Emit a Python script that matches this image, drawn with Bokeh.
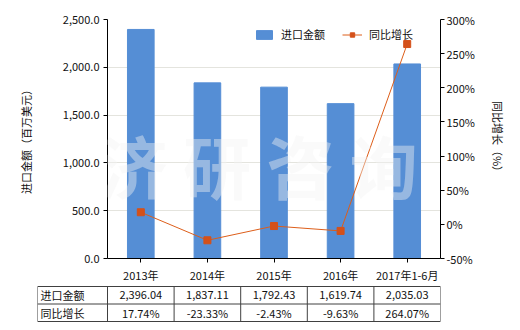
from bokeh.plotting import figure
from bokeh.models import (ColumnDataSource, FactorRange, Range1d, LinearAxis, NumeralTickFormatter,
                          PrintfTickFormatter, FixedTicker, Legend, LegendItem, Label)
from bokeh.layouts import column
from bokeh.core.properties import value
from bokeh.embed import file_html
from bokeh.resources import INLINE

# ---- data ----
categories = ["2013年", "2014年", "2015年", "2016年", "2017年1-6月"]
import_values = [2396.04, 1837.11, 1792.43, 1619.74, 2035.03]
growth_pct = [17.74, -23.33, -2.43, -9.63, 264.07]
left_ticks = [0, 500, 1000, 1500, 2000, 2500]
right_ticks = [-50, 0, 50, 100, 150, 200, 250, 300]
series_names = ["进口金额", "同比增长"]

FONT = "Noto Sans CJK SC"
BAR_COLOR = "#558ED5"
LINE_COLOR = "#DD5E1A"
MARK_COLOR = "#D4511A"

src = ColumnDataSource(dict(cat=categories, val=import_values, g=growth_pct))

p = figure(width=520, height=285, x_range=FactorRange(*categories, range_padding=0),
           y_range=Range1d(0, 2500), output_backend="svg", toolbar_location=None,
           min_border_left=107, min_border_right=80, min_border_top=19, min_border_bottom=26)
p.frame_align = False
p.outline_line_color = None
p.xgrid.grid_line_color = None
p.ygrid.grid_line_color = "#E4E4DE"
p.ygrid.ticker = FixedTicker(ticks=left_ticks)

p.extra_y_ranges = {"pct": Range1d(-50, 300)}

bars = p.vbar(x="cat", top="val", width=0.4, source=src, color=BAR_COLOR)

wm = Label(x=2.27, y=979, text="济 研 咨 询", text_align="center", text_baseline="middle",
           text_font=FONT, text_font_size="68px", text_font_style="bold",
           text_color="#F2F2F2", text_alpha=0.42)
p.add_layout(wm)

line = p.line(x="cat", y="g", source=src, y_range_name="pct", line_color=LINE_COLOR, line_width=1)
marks = p.scatter(x="cat", y="g", source=src, y_range_name="pct", marker="square", size=7,
                  fill_color=MARK_COLOR, line_color=MARK_COLOR)

def style_axis(ax):
    ax.major_label_text_font = FONT
    ax.major_label_text_font_size = "11px"
    ax.major_label_text_color = "#111111"
    ax.axis_label_text_font = FONT
    ax.axis_label_text_font_size = "11px"
    ax.axis_label_text_font_style = "normal"
    ax.axis_label_text_color = "#111111"
    ax.axis_line_color = "#000000"
    ax.major_tick_line_color = "#000000"
    ax.major_tick_out = 4
    ax.major_tick_in = 0
    ax.minor_tick_line_color = None

ly = p.yaxis[0]
style_axis(ly)
ly.ticker = FixedTicker(ticks=left_ticks)
ly.formatter = NumeralTickFormatter(format="0,0.0")
ly.axis_label = "进口金额（百万美元）"
ly.major_label_standoff = 4
ly.axis_label_standoff = 26

ry = LinearAxis(y_range_name="pct", ticker=FixedTicker(ticks=right_ticks),
                formatter=PrintfTickFormatter(format="%d%%"), axis_label="同比增长（%）")
style_axis(ry)
ry.major_label_standoff = 2
ry.axis_label_standoff = 12
p.add_layout(ry, "right")

bx = p.xaxis[0]
style_axis(bx)
bx.major_label_standoff = 4

legend = Legend(items=[LegendItem(label=series_names[0], renderers=[bars]),
                       LegendItem(label=series_names[1], renderers=[line, marks])],
                location=(147, 216), orientation="horizontal", margin=0, padding=0,
                spacing=17, label_standoff=7, glyph_width=20, glyph_height=11,
                label_height=11, label_text_font=FONT, label_text_font_size="11px",
                label_text_color="#111111", border_line_color=None,
                background_fill_alpha=0)
p.add_layout(legend)

# ---- data table below ----
ncol = len(categories)
x0 = -70 / 66.6
t = figure(width=520, height=45, x_range=Range1d(x0, ncol), y_range=Range1d(44 / 17.5, -1 / 17.5),
           output_backend="svg", toolbar_location=None, x_axis_type=None, y_axis_type=None,
           min_border_left=37, min_border_right=80, min_border_top=0, min_border_bottom=0)
t.frame_align = False
t.outline_line_color = None
t.grid.grid_line_color = None

rows = 2
hx0 = [x0] * (rows + 1)
hx1 = [ncol] * (rows + 1)
hy = list(range(rows + 1))
t.segment(x0=hx0, x1=hx1, y0=hy, y1=hy, line_color="#404040", line_width=1)
vx = [x0] + list(range(ncol + 1))
t.segment(x0=vx, x1=vx, y0=[0] * len(vx), y1=[rows] * len(vx), line_color="#404040", line_width=1)

row_texts = [[f"{v:,.2f}" for v in import_values], [f"{v:.2f}%" for v in growth_pct]]
for r in range(rows):
    t.text(x=[i + 0.5 for i in range(ncol)], y=[r + 0.5] * ncol, text=row_texts[r],
           text_align="center", text_baseline="middle", text_font=value(FONT),
           text_font_size="11px", text_color="#111111")
t.text(x=[x0] * rows, y=[r + 0.5 for r in range(rows)], text=series_names, x_offset=3,
       text_align="left", text_baseline="middle", text_font=value(FONT),
       text_font_size="11px", text_color="#111111")

layout = column(p, t, spacing=0)
open("out.html", "w").write(file_html(layout, INLINE))
